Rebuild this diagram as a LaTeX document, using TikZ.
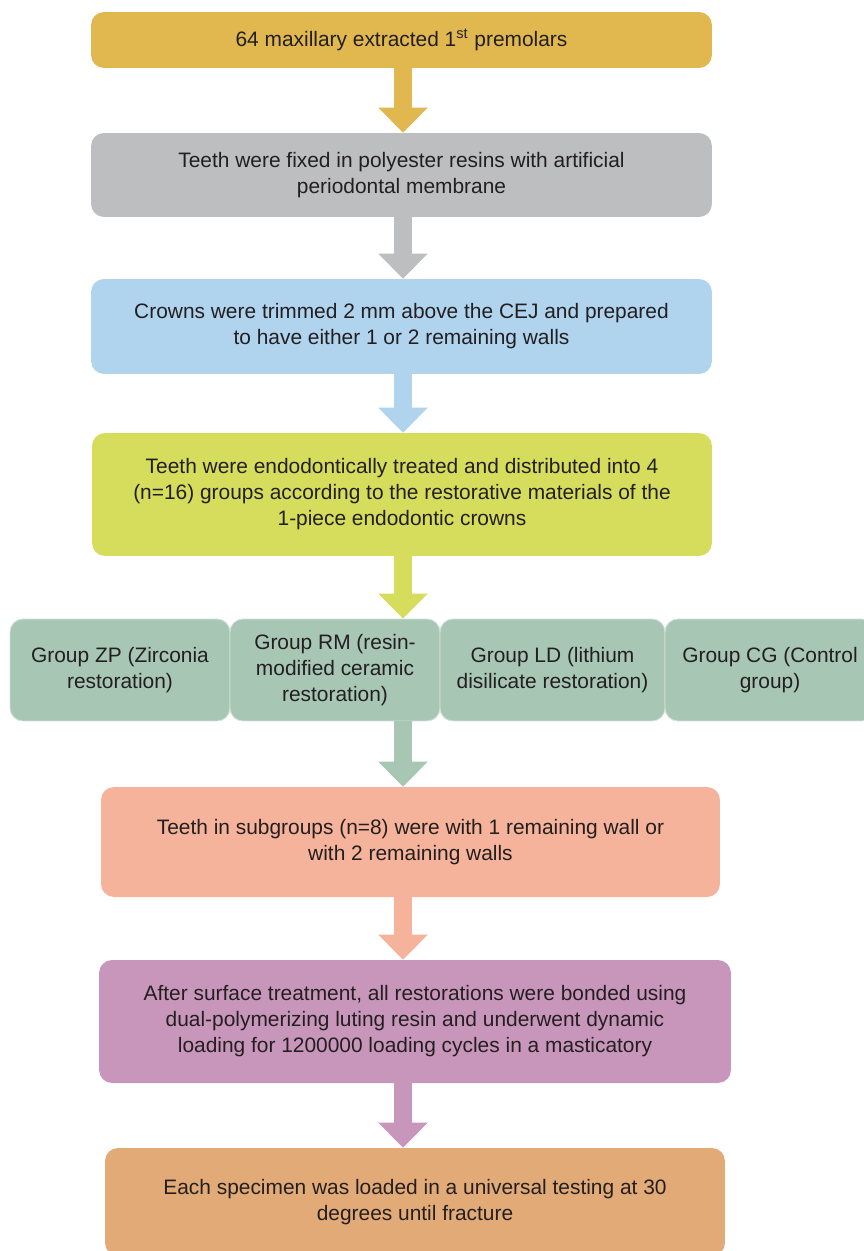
\documentclass[tikz,border=0pt]{standalone}
\usepackage{fontspec}
\setmainfont{Liberation Sans}
\usetikzlibrary{arrows.meta,positioning}

\definecolor{goldc}{HTML}{E1B84F}
\definecolor{grayc}{HTML}{BDBEC0}
\definecolor{bluec}{HTML}{B0D3EE}
\definecolor{limec}{HTML}{D6DC5C}
\definecolor{sagec}{HTML}{A7C6B4}
\definecolor{salmonc}{HTML}{F4B39A}
\definecolor{mauvec}{HTML}{C896BA}
\definecolor{tanc}{HTML}{E2AA76}
\definecolor{inkc}{HTML}{231F20}

\tikzstyle{stepbox} = [rounded corners=0.26cm, align=center, inner sep=0pt, text=inkc, font=\fontsize{11.9}{14.8}\selectfont]
\tikzstyle{groupbox} = [stepbox, fill=sagec, draw=white!45!sagec, line width=0.5pt, minimum height=2.04cm]
\tikzstyle{flow} = [line width=0.36cm, -{Triangle[width=0.96cm,length=0.5cm]}]

\begin{document}
\begin{tikzpicture}[x=0.02cm, y=-0.02cm]
	\useasboundingbox (0,0) rectangle (863,1251);
	\coordinate (axis) at (403,0);

	% main steps
	\node[stepbox, fill=goldc, minimum width=12.42cm, minimum height=1.12cm] (collect) at (401.5,40)
	    {64 maxillary extracted 1\textsuperscript{st} premolars};
	\node[stepbox, fill=grayc, minimum width=12.42cm, minimum height=1.68cm] (mount) at (401.5,175)
	    {Teeth were fixed in polyester resins with artificial\\periodontal membrane};
	\node[stepbox, fill=bluec, minimum width=12.42cm, minimum height=1.9cm] (trim) at (401.5,326.5)
	    {Crowns were trimmed 2 mm above the CEJ and prepared\\to have either 1 or 2 remaining walls};
	\node[stepbox, fill=limec, minimum width=12.4cm, minimum height=2.46cm] (endo) at (402,494.5)
	    {Teeth were endodontically treated and distributed into 4\\(n=16) groups according to the restorative materials of the\\1-piece endodontic crowns};

	% groups
	\node[groupbox, minimum width=4.4cm] (zp) at (120,670) {Group ZP (Zirconia\\restoration)};
	\node[groupbox, minimum width=4.2cm] (rm) at (335,670) {Group RM (resin-\\modified ceramic\\restoration)};
	\node[groupbox, minimum width=4.5cm] (ld) at (552.5,670) {Group LD (lithium\\disilicate restoration)};
	\node[groupbox, minimum width=4.2cm] (cg) at (770,670) {Group CG (Control\\group)};

	\node[stepbox, fill=salmonc, minimum width=12.38cm, minimum height=2.2cm] (walls) at (410.5,842)
	    {Teeth in subgroups (n=8) were with 1 remaining wall or\\with 2 remaining walls};
	\node[stepbox, fill=mauvec, minimum width=12.64cm, minimum height=2.46cm] (bond) at (415,1021.5)
	    {After surface treatment, all restorations were bonded using\\dual-polymerizing luting resin and underwent dynamic\\loading for 1200000 loading cycles in a masticatory};
	\node[stepbox, fill=tanc, minimum width=12.4cm, minimum height=2.16cm] (load) at (415,1202)
	    {Each specimen was loaded in a universal testing at 30\\degrees until fracture};

	% arrows
	\draw[flow, goldc] (collect.south -| axis) -- (mount.north -| axis);
	\draw[flow, grayc] (mount.south -| axis) -- (trim.north -| axis);
	\draw[flow, bluec] (trim.south -| axis) -- (endo.north -| axis);
	\draw[flow, limec] (endo.south -| axis) -- (rm.north -| axis);
	\draw[flow, sagec] (rm.south -| axis) -- (walls.north -| axis);
	\draw[flow, salmonc] (walls.south -| axis) -- (bond.north -| axis);
	\draw[flow, mauvec] (bond.south -| axis) -- (load.north -| axis);
\end{tikzpicture}
\end{document}
